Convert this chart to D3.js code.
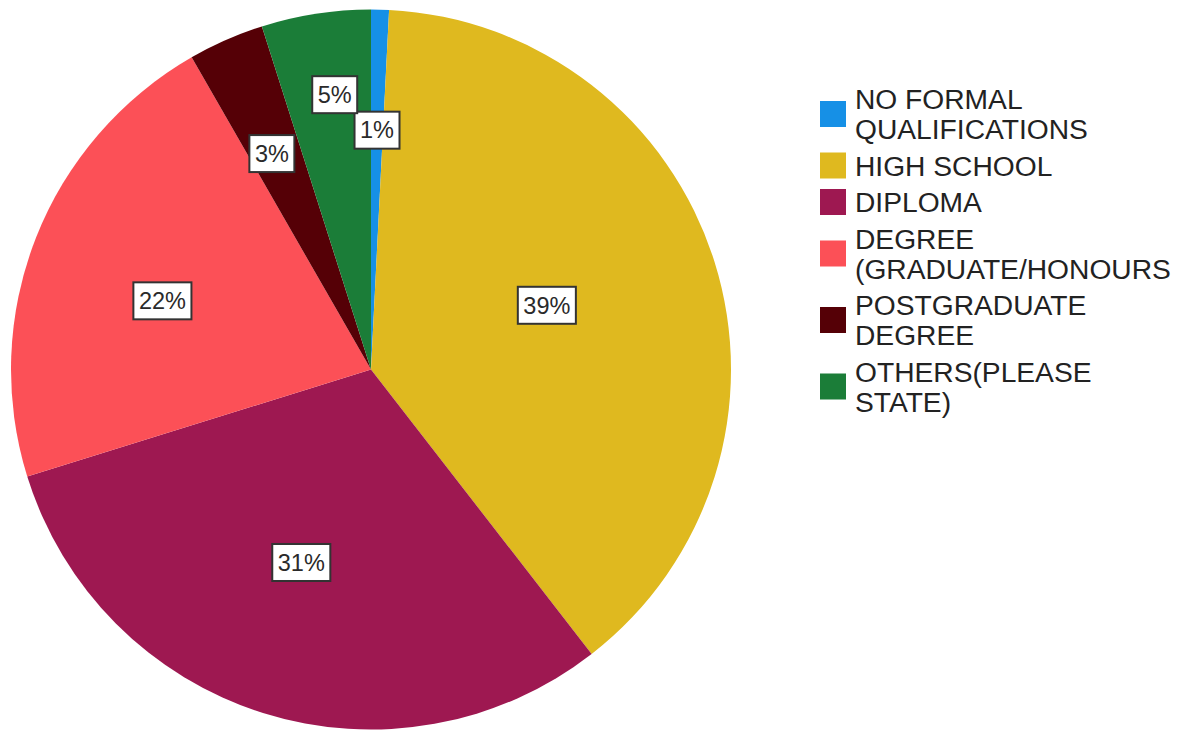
<!DOCTYPE html>
<html>
<head>
<meta charset="utf-8">
<script src="https://cdn.jsdelivr.net/npm/d3@7/dist/d3.min.js"></script>
<style>
html,body{margin:0;padding:0;background:#fff;}
svg{display:block;}
</style>
</head>
<body>
<svg id="chart" width="1185" height="731"></svg>
<script>
// ---- data ----
const categories = [
  ["NO FORMAL", "QUALIFICATIONS"],
  ["HIGH SCHOOL"],
  ["DIPLOMA"],
  ["DEGREE", "(GRADUATE/HONOURS"],
  ["POSTGRADUATE", "DEGREE"],
  ["OTHERS(PLEASE", "STATE)"]
];
const values = [0.8, 38.7, 30.7, 21.5, 3.4, 4.9];
const valueLabels = ["1%", "39%", "31%", "22%", "3%", "5%"];
const colors = ["#1690e6", "#dfb91f", "#9e1851", "#fc5057", "#550006", "#1b7d38"];
// label placement (layout): distance as fraction of radius, angle offset in degrees
const labelRadius = [0.665, 0.52, 0.57, 0.61, 0.66, 0.77];
const labelAngleOffset = [0, -2.6, 2.4, -3.2, -0.9, 1.3];

// ---- layout ----
const cx = 371, cy = 369.5, R = 360;
const svg = d3.select("#chart");
const g = svg.append("g").attr("transform", `translate(${cx},${cy})`);

const pie = d3.pie().sort(null).value(d => d)(values);
const arc = d3.arc().innerRadius(0).outerRadius(R);

g.selectAll("path.slice").data(pie).join("path")
  .attr("class", "slice")
  .attr("d", arc)
  .attr("fill", (d, i) => colors[i]);

// labels
const fontFam = "'Liberation Sans', Arial, sans-serif";
const lab = g.selectAll("g.lab").data(pie).join("g").attr("class", "lab")
  .attr("transform", (d, i) => {
    const a = (d.startAngle + d.endAngle) / 2 + labelAngleOffset[i] * Math.PI / 180;
    const r = R * labelRadius[i];
    return `translate(${Math.sin(a) * r},${-Math.cos(a) * r})`;
  });
lab.each(function(d, i) {
  const sel = d3.select(this);
  const t = sel.append("text")
    .attr("text-anchor", "middle")
    .attr("dy", "0.35em")
    .attr("font-family", fontFam)
    .attr("font-size", 23.5)
    .attr("fill", "#2a2a2a")
    .text(valueLabels[i]);
  const w = t.node().getComputedTextLength() + 11;
  const h = 37;
  sel.insert("rect", "text")
    .attr("x", -w / 2).attr("y", -h / 2)
    .attr("width", w).attr("height", h)
    .attr("fill", "#fff")
    .attr("stroke", "#333")
    .attr("stroke-width", 2);
});

// legend
const lineH = 30, gap = 6.5, sw = 26;
const legend = svg.append("g");
let y = 99;
categories.forEach((lines, i) => {
  const item = legend.append("g");
  const mid = y + (lines.length - 1) * lineH / 2;
  item.append("rect")
    .attr("x", 820).attr("y", mid - sw / 2)
    .attr("width", sw).attr("height", sw)
    .attr("fill", colors[i]);
  lines.forEach((ln, j) => {
    item.append("text")
      .attr("x", 855).attr("y", y + j * lineH)
      .attr("dy", "0.36em")
      .attr("font-family", fontFam)
      .attr("font-size", 28.2)
      .attr("fill", "#222")
      .text(ln);
  });
  y += lines.length * lineH + gap;
});
</script>
</body>
</html>
